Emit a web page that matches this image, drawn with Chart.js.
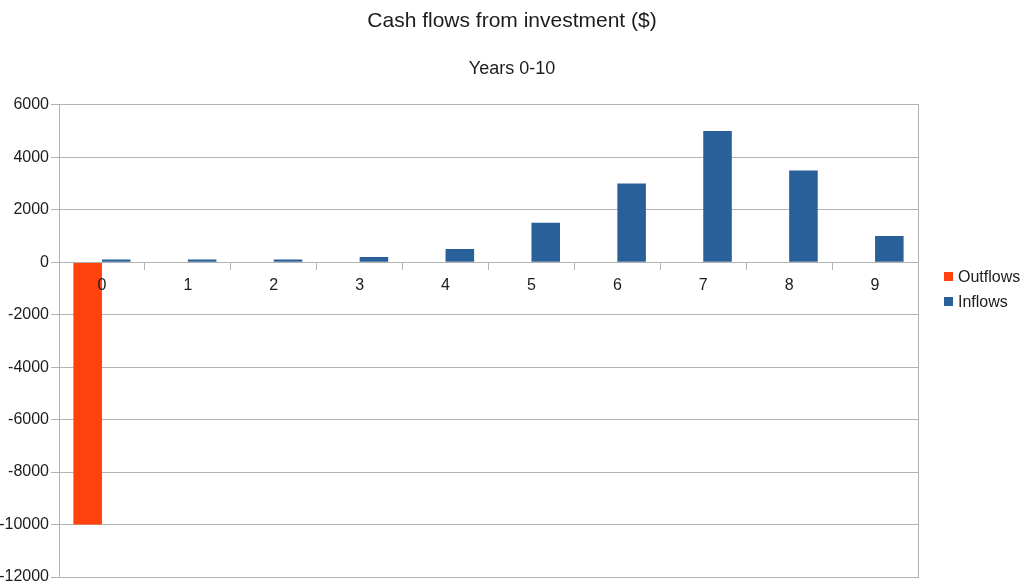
<!DOCTYPE html>
<html>
<head>
<meta charset="utf-8">
<title>Cash flows from investment ($)</title>
<script src="https://cdn.jsdelivr.net/npm/chart.js@4/dist/chart.umd.min.js"></script>
<style>
  html, body { margin: 0; padding: 0; background: #fff; }
  #wrap { position: relative; width: 1024px; height: 585px; }
  #legend { position: absolute; left: 944px; top: 264px; font: 16px "Liberation Sans", Arial, sans-serif; color: #1c1c1c; }
  #legend .item { display: flex; align-items: center; height: 25px; }
  #legend .sw { width: 9px; height: 9px; margin-right: 5px; }
</style>
</head>
<body>
<div id="wrap">
  <canvas id="c" width="1024" height="585"></canvas>
  <div id="legend"></div>
</div>
<script>
// Years along the horizontal axis
const years = ['0', '1', '2', '3', '4', '5', '6', '7', '8', '9'];
// Money paid out (negative) and money received each year, in $
const outflows = [-10000, 0, 0, 0, 0, 0, 0, 0, 0, 0];
const inflows = [100, 100, 100, 200, 500, 1500, 3000, 5000, 3500, 1000];
const seriesNames = ['Outflows', 'Inflows'];
const seriesColors = ['#ff420e', '#2a6099'];

const FONT = '"Liberation Sans", Arial, sans-serif';
const GRID = '#b3b3b3';
const TEXT = '#1c1c1c';

const chart = new Chart(document.getElementById('c'), {
  type: 'bar',
  data: {
    labels: years,
    datasets: [
      { label: seriesNames[0], data: outflows, backgroundColor: seriesColors[0], borderWidth: 0 },
      { label: seriesNames[1], data: inflows, backgroundColor: seriesColors[1], borderWidth: 0 }
    ]
  },
  options: {
    responsive: false,
    animation: false,
    layout: { padding: { left: 0, right: 0, top: 0, bottom: 8 } },
    datasets: { bar: { categoryPercentage: 0.665, barPercentage: 1 } },
    plugins: {
      legend: { display: false },
      tooltip: { enabled: false },
      title: {
        display: true,
        text: 'Cash flows from investment ($)',
        color: TEXT,
        font: { family: FONT, size: 21, weight: 'normal' },
        padding: { top: 9, bottom: 0 }
      },
      subtitle: {
        display: true,
        text: 'Years 0-10',
        color: TEXT,
        font: { family: FONT, size: 18, weight: 'normal' },
        padding: { top: 24, bottom: 25 }
      }
    },
    scales: {
      x: {
        position: { y: 0 },
        offset: true,
        grid: { drawOnChartArea: false, drawTicks: true, tickLength: 7, color: GRID, offset: true },
        border: { color: GRID, z: 1 },
        // year labels sit on top of the bars
        ticks: { z: 1, color: TEXT, font: { family: FONT, size: 16 }, padding: 7, maxRotation: 0 }
      },
      y: {
        min: -12000,
        max: 6000,
        ticks: {
          stepSize: 2000, color: TEXT, font: { family: FONT, size: 16 }, padding: 2,
          callback: v => String(v)
        },
        grid: { color: GRID, tickLength: 8 },
        border: { color: GRID },
        afterFit(s) { s.width = 59; s.paddingTop = 0; s.paddingBottom = 0; }
      },
      // Empty right-hand axis: closes the frame and leaves room for the legend
      yFrame: {
        type: 'linear',
        position: 'right',
        min: -12000,
        max: 6000,
        ticks: { display: false },
        grid: { display: false, drawTicks: false },
        border: { display: true, color: GRID },
        afterFit(s) { s.width = 106; s.paddingTop = 0; s.paddingBottom = 0; }
      }
    }
  }
});

// Legend entries built from the series names and colours
const legend = document.getElementById('legend');
seriesNames.forEach((name, i) => {
  const item = document.createElement('div');
  item.className = 'item';
  const sw = document.createElement('span');
  sw.className = 'sw';
  sw.style.background = seriesColors[i];
  const label = document.createElement('span');
  label.textContent = name;
  item.appendChild(sw);
  item.appendChild(label);
  legend.appendChild(item);
});
</script>
</body>
</html>
